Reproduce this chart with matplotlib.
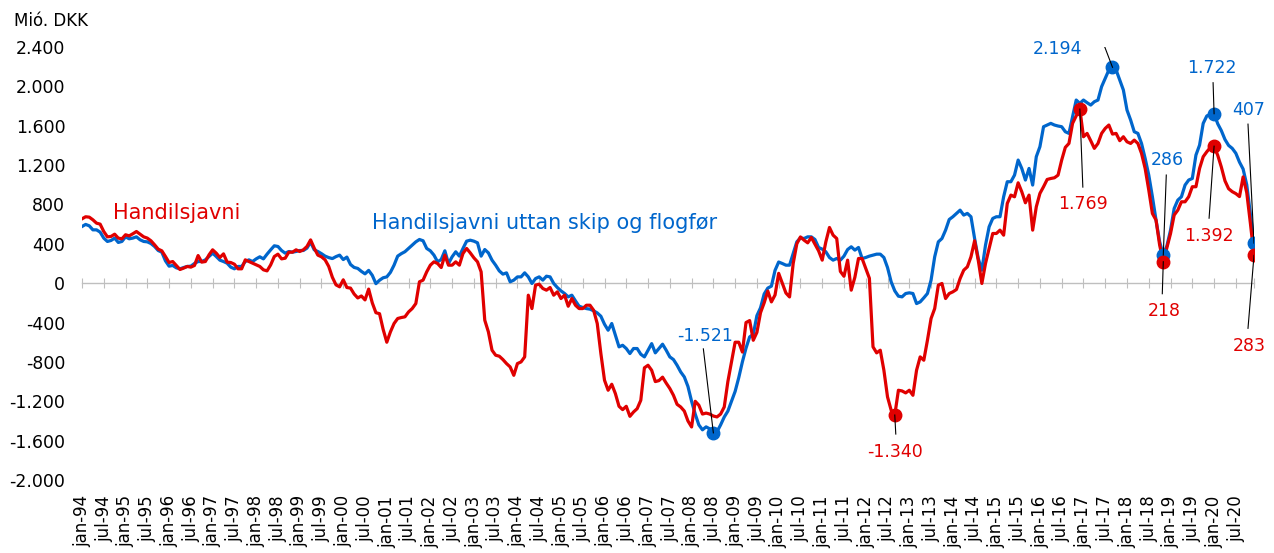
import numpy as np
import pandas as pd
import matplotlib
matplotlib.use("Agg")
from matplotlib import pyplot as plt
from matplotlib.ticker import FuncFormatter

months = pd.period_range("1994-01", "2020-12", freq="M")

# Handilsjavni, mió. DKK, one row per year (jan..des)
handilsjavni = [
    654, 675, 671, 644, 610, 600, 525, 471, 475, 498, 458, 451,
    492, 481, 502, 525, 498, 471, 458, 431, 390, 346, 329, 271,
    210, 220, 180, 139, 153, 170, 163, 180, 281, 214, 220, 288,
    339, 305, 261, 298, 214, 210, 193, 146, 146, 237, 220, 203,
    186, 170, 136, 125, 186, 271, 295, 247, 254, 315, 315, 339,
    322, 339, 373, 440, 356, 285, 268, 237, 170, 60, -17, -37,
    34, -44, -50, -110, -150, -130, -170, -60, -200, -300, -310, -470,
    -600, -495, -410, -359, -349, -342, -292, -258, -207, 14, 31, 115,
    183, 217, 200, 159, 285, 183, 183, 217, 183, 302, 353, 308,
    258, 217, 115, -376, -495, -681, -732, -742, -776, -817, -851, -936,
    -817, -800, -749, -122, -258, -20, -10, -54, -71, -44, -122, -88,
    -156, -122, -234, -156, -224, -258, -258, -224, -224, -275, -410, -715,
    -986, -1088, -1027, -1122, -1251, -1285, -1251, -1353, -1309, -1275, -1190, -860,
    -834, -885, -1000, -990, -955, -1015, -1070, -1139, -1231, -1258, -1300, -1400,
    -1461, -1200, -1240, -1330, -1320, -1330, -1350, -1359, -1330, -1258, -1000, -800,
    -600, -600, -700, -400, -380, -580, -500, -300, -200, -80, -190, -120,
    100, 0, -100, -140, 200, 400, 470, 437, 410, 464, 397, 329,
    234, 420, 566, 488, 454, 120, 70, 234, -71, 60, 251, 250,
    150, 50, -647, -708, -681, -885, -1156, -1290, -1340, -1088, -1095, -1115,
    -1088, -1139, -885, -749, -783, -580, -359, -258, -20, -3, -156, -105,
    -88, -64, 47, 132, 166, 268, 431, 234, -3, 200, 353, 505,
    505, 539, 488, 810, 895, 878, 1020, 929, 817, 895, 539, 776,
    912, 980, 1054, 1064, 1071, 1098, 1251, 1380, 1420, 1624, 1700, 1769,
    1488, 1522, 1448, 1370, 1420, 1522, 1573, 1607, 1515, 1522, 1448, 1488,
    1437, 1420, 1454, 1420, 1319, 1166, 946, 708, 641, 386, 218, 360,
    505, 692, 742, 827, 827, 878, 980, 980, 1166, 1285, 1336, 1380,
    1392, 1300, 1180, 1040, 960, 930, 910, 880, 1080, 920, 610, 283,
]

# Handilsjavni uttan skip og flogfør
uttan_skip = [
    576, 597, 583, 542, 542, 519, 458, 424, 434, 458, 414, 424,
    471, 451, 458, 471, 441, 424, 420, 403, 373, 332, 315, 227,
    173, 180, 156, 146, 159, 170, 173, 200, 220, 220, 237, 271,
    305, 271, 234, 220, 203, 163, 146, 170, 170, 220, 237, 220,
    247, 268, 247, 295, 339, 380, 373, 332, 305, 322, 315, 322,
    332, 332, 356, 417, 339, 322, 300, 275, 260, 250, 270, 285,
    240, 265, 190, 160, 150, 120, 95, 130, 80, -5, 30, 55,
    64, 110, 183, 275, 300, 320, 353, 386, 420, 444, 431, 353,
    329, 285, 217, 241, 329, 200, 268, 319, 275, 353, 427, 437,
    427, 410, 275, 342, 308, 234, 183, 125, 92, 105, 14, 31,
    64, 64, 105, 64, -3, 47, 64, 31, 71, 64, -3, -44,
    -78, -105, -139, -122, -180, -234, -247, -258, -264, -281, -302, -336,
    -417, -478, -410, -529, -647, -631, -664, -715, -664, -664, -722, -749,
    -681, -614, -708, -664, -620, -681, -749, -776, -834, -902, -953, -1050,
    -1200, -1330, -1440, -1490, -1460, -1480, -1521, -1510, -1440, -1360, -1300, -1200,
    -1100, -960, -800, -660, -546, -520, -330, -250, -110, -50, -30, 130,
    215, 200, 183, 183, 300, 420, 460, 454, 471, 471, 444, 363,
    346, 319, 261, 234, 251, 234, 275, 342, 370, 336, 363, 251,
    261, 275, 285, 295, 295, 261, 159, 14, -78, -132, -139, -105,
    -98, -105, -207, -190, -149, -105, 31, 268, 420, 454, 539, 647,
    675, 709, 742, 692, 709, 675, 454, 251, 132, 386, 573, 658,
    675, 675, 878, 1031, 1031, 1098, 1251, 1166, 1048, 1166, 997, 1285,
    1387, 1590, 1607, 1624, 1607, 1597, 1590, 1539, 1522, 1692, 1861, 1827,
    1861, 1834, 1810, 1844, 1861, 1997, 2081, 2166, 2194, 2166, 2064, 1963,
    1759, 1658, 1539, 1522, 1420, 1268, 1098, 878, 641, 420, 286, 380,
    539, 759, 844, 878, 997, 1048, 1064, 1302, 1403, 1624, 1700, 1715,
    1722, 1620, 1550, 1460, 1400, 1370, 1320, 1230, 1160, 1000, 700, 407,
]

RED = "#E00000"
BLUE = "#0066CC"
GREY = "#BFBFBF"


def dkk(v):
    return f"{v:,.0f}".replace(",", ".")


fig = plt.figure(figsize=(12.74, 5.53), dpi=100)
ax = fig.add_axes([82 / 1274, 73 / 553, 1172 / 1274, 433 / 553])

x = np.arange(len(months))
ax.plot(x, uttan_skip, color=BLUE, lw=2.3, zorder=3)
ax.plot(x, handilsjavni, color=RED, lw=2.3, zorder=4)

ax.set_xlim(0, len(months) - 1)
ax.set_ylim(-2000, 2400)
ax.set_yticks(np.arange(-2000, 2401, 400))
ax.yaxis.set_major_formatter(FuncFormatter(lambda v, p: dkk(v)))
ax.tick_params(axis="y", length=0, pad=12, labelsize=12.5)
for s in ax.spines.values():
    s.set_visible(False)

# half-year labels along the bottom
half = x[::6]
ax.set_xticks(half, [f"{'jan' if p.month == 1 else 'jul'}-{p.year % 100:02d}"
                     for p in months[::6]], rotation=90)
ax.tick_params(axis="x", length=0, pad=11, labelsize=12)

# zero line with crossing tick marks
zero = ax.secondary_xaxis(2000 / 4400)
zero.set_xticks(list(half) + [len(months) - 1], labels=[])
zero.tick_params(direction="inout", length=6.5, width=0.8, color=GREY)
zero.spines["bottom"].set_color(GREY)
zero.spines["bottom"].set_linewidth(1)

# labelled points: (series, colour, month, text offset px, leader vertices px)
notes = [
    (uttan_skip, BLUE, "2008-07", (-8, 97), [(-10, 84)]),
    (uttan_skip, BLUE, "2017-09", (-55, 18), [(-20, 21), (-8, 21)]),
    (handilsjavni, RED, "2016-12", (3, -95), [(3, -78)]),
    (uttan_skip, BLUE, "2018-11", (4, 95), [(3, 80)]),
    (handilsjavni, RED, "2018-11", (1, -49), [(-1, -32)]),
    (uttan_skip, BLUE, "2020-01", (-2, 46), [(-1, 31)]),
    (handilsjavni, RED, "2020-01", (-5, -90), [(-5, -72)]),
    (uttan_skip, BLUE, "2020-12", (-5, 133), [(-6, 119)]),
    (handilsjavni, RED, "2020-12", (-5, -91), [(-6, -73)]),
    (handilsjavni, RED, "2012-09", (0, -37), [(1, -19)]),
]
for series, colour, month, (dx, dy), leader in notes:
    i = months.get_loc(pd.Period(month, freq="M"))
    v = series[i]
    ax.plot(i, v, "o", color=colour, ms=9, zorder=5)
    p = ax.transData.transform((i, v))
    pts = [p + np.array(o) for o in leader] + [p]
    pts = ax.transData.inverted().transform(pts)
    ax.plot(pts[:, 0], pts[:, 1], color="black", lw=0.8, zorder=6)
    ax.annotate(dkk(v), xy=(i, v), xytext=(dx, dy), textcoords="offset pixels",
                ha="center", va="center", color=colour, fontsize=12.5)

fig.text(14 / 1274, 1 - 26 / 553, "Mió. DKK", fontsize=12, va="baseline")
fig.text(113 / 1274, 1 - 219 / 553, "Handilsjavni", color=RED, fontsize=15,
         va="baseline")
fig.text(372 / 1274, 1 - 229 / 553, "Handilsjavni uttan skip og flogfør",
         color=BLUE, fontsize=15, va="baseline")

fig.savefig("out.png", dpi=100)
